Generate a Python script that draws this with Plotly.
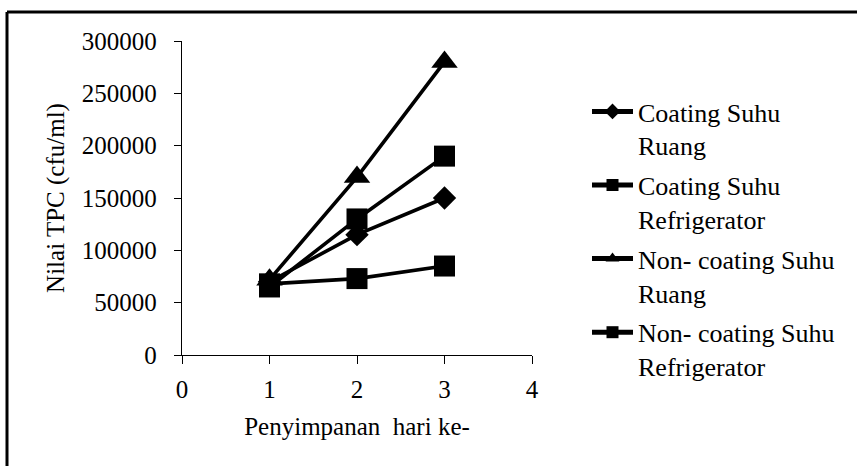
import plotly.graph_objects as go

# Storage day and total plate count (cfu/ml) per treatment
days = [1, 2, 3]
coating_ruang = [70000, 115000, 150000]
coating_refrigerator = [65000, 130000, 190000]
noncoating_ruang = [72000, 170000, 280000]
noncoating_refrigerator = [68000, 73000, 85000]

series_names = [
    "Coating Suhu<br>Ruang",
    "Coating Suhu<br>Refrigerator",
    "Non- coating Suhu<br>Ruang",
    "Non- coating Suhu<br>Refrigerator",
]
series_values = [coating_ruang, coating_refrigerator, noncoating_ruang, noncoating_refrigerator]
series_symbols = ["diamond", "square", "triangle-up", "square"]
series_sizes = [18, 21, 23, 21]

x_ticks = [0, 1, 2, 3, 4]
y_ticks = [0, 50000, 100000, 150000, 200000, 250000, 300000]
y_tick_labels = [str(v) for v in y_ticks]

FONT = "Liberation Serif"
W, H = 857, 466
# plot area in pixels
L, R, T, B = 182, 532, 41, 355

fig = go.Figure()
for i, (name, vals, sym, size) in enumerate(zip(series_names, series_values, series_symbols, series_sizes)):
    fig.add_trace(go.Scatter(
        x=days, y=vals, name=name, mode="lines+markers", legendgroup=f"g{i}",
        line=dict(color="black", width=3.6),
        marker=dict(symbol=sym, size=size, color="black"),
    ))

# open frame: top and left edges only
pw, ph = R - L, B - T
def px(xp):
    return (xp - L) / pw
def py(yp):
    return (B - yp) / ph

frame = dict(color="black", width=3)
fig.add_shape(type="line", xref="paper", yref="paper",
              x0=px(7), x1=px(W + 5), y0=py(12), y1=py(12), line=frame)
fig.add_shape(type="line", xref="paper", yref="paper",
              x0=px(7), x1=px(7), y0=py(12), y1=py(H + 5), line=frame)

fig.update_layout(
    width=W, height=H,
    margin=dict(l=L, r=W - R, t=T, b=H - B, pad=0),
    paper_bgcolor="white", plot_bgcolor="white",
    font=dict(family=FONT, size=25, color="black"),
    showlegend=True,
    legend=dict(
        x=px(587), y=py(88), xanchor="left", yanchor="top",
        font=dict(family=FONT, size=26, color="black"),
        valign="top", bgcolor="rgba(0,0,0,0)",
        itemsizing="constant", itemwidth=41, tracegroupgap=3,
    ),
    xaxis=dict(
        range=[0, 4], tickvals=x_ticks, showgrid=False, zeroline=False,
        showline=True, linecolor="black", linewidth=1.3,
        ticks="outside", ticklen=8, tickcolor="black", tickwidth=1.3,
        ticklabelstandoff=4,
        title=dict(text="Penyimpanan  hari ke-", standoff=15,
                   font=dict(family=FONT, size=25)),
    ),
    yaxis=dict(
        range=[0, 300000], tickvals=y_ticks, ticktext=y_tick_labels,
        showgrid=False, zeroline=False,
        showline=True, linecolor="black", linewidth=1.3,
        ticks="outside", ticklen=7, tickcolor="black", tickwidth=1.3,
        ticklabelstandoff=12,
        title=dict(text="Nilai TPC (cfu/ml)", standoff=10,
                   font=dict(family=FONT, size=25)),
    ),
)

fig.write_html("out.html")
